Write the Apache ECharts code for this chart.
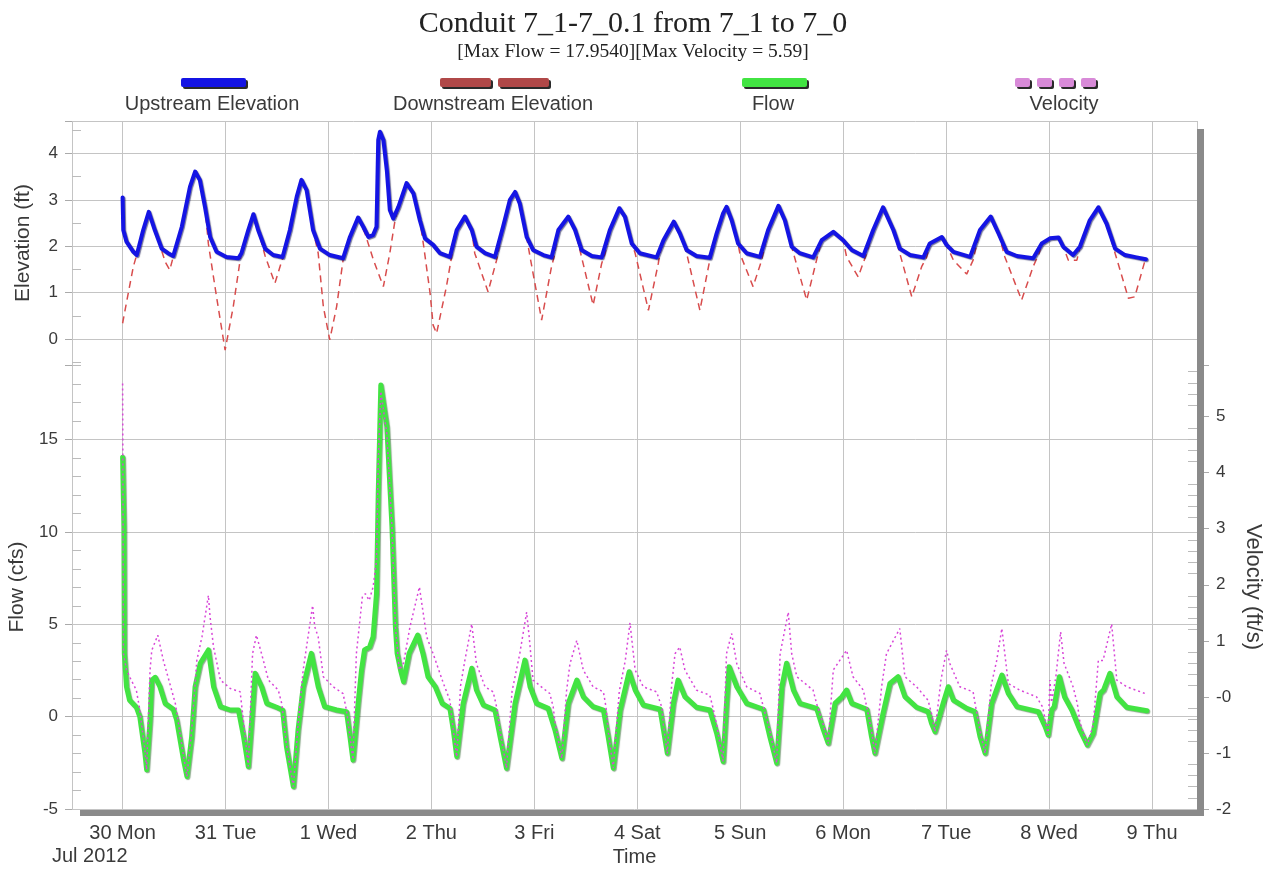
<!DOCTYPE html>
<html>
<head>
<meta charset="utf-8">
<title>Conduit 7_1-7_0.1 from 7_1 to 7_0</title>
<script src="https://cdn.jsdelivr.net/npm/echarts@6/dist/echarts.min.js"></script>
<style>
  html, body { margin: 0; padding: 0; background: #ffffff; }
  #chart { width: 1266px; height: 871px; }
</style>
</head>
<body>
<div id="chart"></div>
<script>
// Each point is [hours since 30 Jul 2012 00:00, value]
const upstreamElevation = [
  [0,3.05],[0.15,2.35],[0.9,2.10],[2.5,1.88],[3.3,1.81],[4.8,2.35],[6.1,2.74],[7.5,2.35],[9.1,1.95],[10.6,1.85],
  [11.8,1.79],[13.8,2.42],[15.7,3.28],[16.9,3.61],[18.0,3.43],[19.2,2.85],[20.4,2.20],[21.9,1.88],[24.2,1.77],[27.0,1.74],
  [27.7,1.85],[29.3,2.35],[30.5,2.69],[31.6,2.35],[33.2,1.95],[35.1,1.81],[37.3,1.77],[39.0,2.35],[40.6,3.07],[41.7,3.43],
  [42.9,3.21],[44.4,2.35],[46.0,1.95],[48.3,1.81],[51.4,1.74],[53.0,2.20],[54.9,2.62],[56.1,2.42],[57.3,2.20],[58.4,2.24],
  [59.2,2.42],[59.6,4.29],[60.0,4.47],[60.8,4.29],[61.6,3.64],[62.3,2.78],[63.1,2.60],[64.3,2.85],[66.2,3.36],[67.8,3.14],
  [69.3,2.56],[70.5,2.17],[72.4,2.03],[74.0,1.85],[76.3,1.77],[77.9,2.35],[79.8,2.64],[81.4,2.35],[82.5,1.99],[84.5,1.85],
  [86.8,1.77],[88.7,2.42],[90.3,3.00],[91.5,3.17],[92.6,2.92],[94.2,2.20],[95.7,1.92],[98.1,1.81],[100.0,1.76],[101.6,2.35],
  [103.9,2.64],[105.5,2.35],[107.0,1.92],[109.4,1.79],[111.7,1.76],[113.6,2.35],[115.8,2.82],[117.1,2.64],[118.7,2.06],[120.6,1.85],
  [124.5,1.76],[126.1,2.13],[128.5,2.53],[129.9,2.28],[131.5,1.92],[133.8,1.79],[136.9,1.75],[138.5,2.28],[140.0,2.71],[140.8,2.85],
  [142.0,2.56],[143.5,2.06],[145.5,1.85],[148.6,1.77],[150.5,2.35],[152.9,2.87],[154.4,2.56],[156.0,1.99],[157.9,1.85],[161.0,1.76],
  [163.0,2.13],[165.7,2.31],[168.0,2.13],[170.0,1.92],[172.7,1.79],[175.0,2.35],[177.3,2.84],[179.7,2.35],[181.2,1.95],[183.6,1.81],
  [186.7,1.76],[188.2,2.06],[191.0,2.20],[192.1,2.03],[193.7,1.88],[197.6,1.77],[199.9,2.35],[202.4,2.64],[204.2,2.28],[206.1,1.88],
  [208.5,1.79],[212.3,1.74],[214.3,2.06],[216.2,2.17],[218.2,2.19],[219.3,1.99],[221.6,1.81],[223.2,1.99],[225.5,2.56],[227.5,2.84],
  [229.4,2.49],[231.4,1.95],[233.7,1.81],[236.4,1.76],[238.6,1.72]
];

const downstreamElevation = [
  [0,0.34],[1.3,0.98],[2.5,1.56],[3.4,1.85],[4.8,2.35],[6.1,2.74],[7.5,2.35],[9.1,1.90],[10.0,1.65],[11.0,1.49],
  [11.8,1.77],[13.8,2.42],[15.7,3.28],[16.9,3.61],[18.0,3.43],[19.2,2.85],[20.0,2.05],[21.9,0.91],[23.9,-0.24],[25.8,0.70],
  [27.4,1.70],[27.7,1.85],[29.3,2.35],[30.5,2.69],[31.6,2.35],[33.2,1.80],[35.5,1.20],[37.4,1.77],[39.0,2.35],[40.6,3.07],
  [41.7,3.43],[42.9,3.21],[44.4,2.35],[45.6,1.85],[46.8,0.70],[48.3,-0.02],[49.9,0.70],[51.4,1.70],[53.0,2.20],[54.9,2.62],
  [56.5,2.28],[58.5,1.70],[60.8,1.13],[62.3,1.85],[63.5,2.55],[64.3,2.85],[66.2,3.36],[67.8,3.14],[69.3,2.56],[70.2,2.00],
  [71.7,0.98],[72.4,0.30],[73.2,0.12],[75.5,1.13],[76.7,1.77],[77.9,2.35],[79.8,2.64],[81.4,2.35],[82.1,1.85],[85.2,1.02],
  [87.2,1.70],[88.7,2.42],[90.3,3.00],[91.5,3.17],[92.6,2.92],[94.2,2.20],[95.0,1.77],[97.7,0.41],[100.0,1.56],[100.6,1.77],
  [101.6,2.35],[103.9,2.64],[105.5,2.35],[107.0,1.77],[109.7,0.73],[111.7,1.63],[112.5,1.85],[113.6,2.35],[115.8,2.82],[117.1,2.64],
  [118.7,2.06],[119.5,1.85],[122.6,0.62],[124.9,1.63],[125.3,1.85],[126.1,2.13],[128.5,2.53],[129.9,2.28],[131.5,1.85],[134.6,0.62],
  [136.9,1.70],[138.5,2.28],[140.0,2.71],[140.8,2.85],[142.0,2.56],[143.5,2.06],[143.9,1.85],[147.0,1.13],[149.0,1.70],[150.5,2.35],
  [152.9,2.87],[154.4,2.56],[156.0,1.99],[156.4,1.85],[159.5,0.84],[161.8,1.70],[163.0,2.13],[165.7,2.31],[168.0,2.13],[168.8,1.77],
  [171.5,1.34],[173.5,1.85],[175.0,2.35],[177.3,2.84],[179.7,2.35],[181.2,1.85],[184.0,0.91],[186.3,1.56],[187.5,1.77],[188.2,2.06],
  [191.0,2.20],[192.1,2.03],[193.7,1.70],[196.8,1.40],[198.3,1.70],[199.9,2.35],[202.4,2.64],[204.2,2.28],[205.7,1.77],[209.6,0.84],
  [212.3,1.56],[213.7,1.85],[214.3,2.06],[216.2,2.17],[218.2,2.19],[219.3,1.99],[220.5,1.70],[222.5,1.70],[223.2,1.99],[225.5,2.56],
  [227.5,2.84],[229.4,2.49],[231.4,1.85],[234.5,0.88],[236.0,0.91],[238.4,1.70]
];

const flow = [
  [0,14.05],[0.3,10.3],[0.4,3.43],[0.9,1.62],[1.6,0.90],[3.2,0.51],[4.0,0.00],[5.2,-1.98],[5.6,-2.88],[6.4,-0.18],
  [6.8,1.98],[7.6,2.13],[8.7,1.62],[9.9,0.72],[11.8,0.40],[12.6,-0.18],[14.2,-2.34],[15.0,-3.24],[16.1,-1.08],[16.9,1.62],
  [18.1,2.89],[20.0,3.61],[21.2,1.62],[22.8,0.54],[25.1,0.36],[27.0,0.36],[28.2,-1.08],[29.3,-2.70],[30.1,-0.18],[30.9,2.35],
  [32.4,1.62],[33.6,0.72],[35.9,0.51],[37.3,0.36],[38.2,-1.62],[39.8,-3.78],[40.9,-0.72],[42.1,1.62],[44.0,3.43],[45.6,1.62],
  [47.1,0.54],[49.9,0.36],[52.2,0.27],[53.0,-1.08],[53.7,-2.34],[54.9,0.72],[55.7,2.52],[56.4,3.61],[57.6,3.78],[58.4,4.32],
  [59.2,6.67],[59.6,12.1],[60.2,17.954],[61.6,15.7],[62.8,10.3],[63.6,4.86],[64.0,3.43],[64.8,2.52],[65.5,1.89],[66.8,3.43],
  [68.8,4.42],[70.0,3.43],[71.2,2.16],[72.9,1.62],[74.5,0.72],[76.3,0.45],[77.1,-0.72],[77.9,-2.16],[79.4,0.72],[81.4,2.62],
  [82.5,1.44],[84.1,0.63],[86.8,0.36],[88.0,-1.08],[89.5,-2.79],[91.5,0.72],[93.8,3.06],[95.0,1.62],[96.5,0.72],[99.2,0.45],
  [100.8,-0.72],[102.4,-2.25],[103.9,0.72],[105.9,1.98],[107.4,1.08],[109.7,0.54],[112.1,0.36],[113.2,-1.08],[114.4,-2.79],[116.0,0.36],
  [118.1,2.43],[119.5,1.44],[121.4,0.63],[125.3,0.40],[126.1,-0.72],[127.0,-1.98],[128.4,0.72],[129.5,1.98],[131.1,1.08],[133.8,0.51],
  [136.9,0.36],[138.5,-0.90],[140.0,-2.43],[140.8,0.72],[141.4,2.70],[143.2,1.62],[145.5,0.72],[149.4,0.40],[150.9,-1.08],[152.5,-2.52],
  [153.7,1.62],[154.8,2.89],[156.4,1.44],[157.9,0.72],[161.8,0.45],[163.4,-0.72],[164.5,-1.44],[166.1,0.72],[167.7,1.08],[168.8,1.44],
  [170.0,0.72],[173.5,0.40],[174.6,-1.08],[175.4,-1.98],[177.3,0.18],[178.9,1.80],[180.8,2.16],[182.4,1.08],[185.1,0.51],[187.8,0.27],
  [188.6,-0.36],[189.4,-0.81],[191.3,0.72],[192.5,1.62],[193.7,0.90],[196.8,0.45],[198.7,0.27],[199.9,-1.08],[201.1,-1.98],[202.6,0.72],
  [205.0,2.25],[206.5,1.26],[208.5,0.54],[213.5,0.27],[215.1,-0.54],[215.8,-0.99],[216.6,0.36],[217.2,0.54],[218.4,2.16],[219.6,1.08],
  [221.3,0.36],[223.2,-0.72],[224.9,-1.53],[226.3,-0.90],[227.9,1.26],[228.7,1.44],[230.2,2.35],[231.8,1.08],[234.1,0.51],[238.8,0.32]
];

const velocity = [
  [0,5.59],[0.2,0.77],[0.9,0.48],[2.0,0.30],[3.2,0.12],[3.9,-0.18],[5.2,-0.95],[5.6,-1.30],[6.4,0.48],[6.8,0.83],
  [8.2,1.10],[9.5,0.65],[11.0,0.24],[12.3,-0.12],[14.2,-1.05],[15.0,-1.42],[16.1,-0.60],[17.3,0.65],[18.5,1.07],[20.0,1.81],
  [20.4,1.42],[21.2,0.89],[22.8,0.30],[25.1,0.15],[27.4,0.09],[28.2,-0.45],[29.3,-1.24],[30.3,0.77],[31.2,1.10],[32.4,0.77],
  [34.0,0.30],[36.3,0.12],[37.1,-0.12],[38.2,-0.85],[39.8,-1.60],[40.9,-0.50],[42.1,0.48],[44.3,1.63],[44.8,1.25],[45.6,1.07],
  [46.8,0.36],[49.1,0.18],[51.4,0.06],[52.2,-0.24],[53.0,-0.70],[53.7,-1.12],[54.5,0.77],[55.9,1.78],[56.6,1.84],[57.5,1.72],
  [58.4,1.96],[59.2,2.43],[59.6,4.20],[60.2,5.45],[61.6,4.70],[62.8,3.02],[63.6,1.25],[64.5,0.48],[65.5,0.60],[67.0,1.25],
  [69.2,1.96],[70.9,1.07],[72.4,0.77],[74.8,0.24],[76.3,-0.06],[77.1,-0.60],[77.9,-1.07],[78.8,0.20],[79.8,0.65],[81.4,1.30],
  [82.5,0.59],[84.5,0.18],[86.4,0.09],[87.2,-0.18],[88.0,-0.60],[89.5,-1.27],[90.8,0.10],[92.6,0.77],[94.2,1.51],[94.8,1.07],
  [95.7,0.30],[98.1,0.15],[99.6,0.06],[100.4,-0.18],[100.8,-0.45],[102.4,-1.10],[103.5,0.10],[104.3,0.59],[105.9,1.01],[107.4,0.48],
  [109.7,0.18],[112.1,0.09],[112.7,-0.18],[113.2,-0.60],[114.4,-1.27],[115.8,0.10],[117.2,0.65],[118.3,1.32],[119.5,0.48],[121.4,0.18],
  [124.5,0.09],[125.7,-0.18],[126.1,-0.50],[127.0,-1.01],[128.0,0.20],[128.8,0.77],[129.9,0.89],[131.1,0.48],[133.8,0.12],[136.9,0.03],
  [137.6,-0.18],[138.5,-0.50],[140.0,-1.15],[140.8,0.77],[142.0,1.13],[143.2,0.59],[145.5,0.18],[148.6,0.06],[149.4,-0.18],[150.9,-0.60],
  [152.5,-1.18],[153.3,0.77],[155.2,1.51],[156.0,0.77],[157.2,0.36],[161.0,0.12],[161.8,-0.12],[163.4,-0.50],[164.5,-0.83],[165.7,0.48],
  [168.8,0.83],[170.3,0.36],[172.7,0.12],[173.5,-0.18],[174.6,-0.60],[175.4,-1.01],[177.0,0.20],[178.1,0.77],[181.2,1.22],[182.4,0.36],
  [185.1,0.18],[187.8,-0.06],[188.6,-0.30],[189.4,-0.62],[190.8,0.30],[192.1,0.83],[192.9,0.59],[195.2,0.18],[198.3,0.09],[198.9,-0.18],
  [199.9,-0.60],[201.1,-1.01],[202.5,0.20],[203.8,0.65],[205.0,1.22],[206.5,0.24],[209.2,0.12],[213.1,0.00],[214.5,-0.18],[215.1,-0.40],
  [215.8,-0.68],[216.2,0.30],[216.6,-0.10],[217.6,0.36],[218.7,1.16],[219.5,0.60],[220.1,0.48],[221.6,0.18],[222.6,-0.12],[223.2,-0.45],
  [224.9,-0.86],[226.3,-0.50],[227.5,0.65],[228.6,0.65],[230.6,1.30],[231.8,0.30],[234.1,0.18],[238.4,0.06]
];

const dayLabels = ['30 Mon', '31 Tue', '1 Wed', '2 Thu', '3 Fri', '4 Sat', '5 Sun', '6 Mon', '7 Tue', '8 Wed', '9 Thu'];
const seriesNames = ['Upstream Elevation', 'Downstream Elevation', 'Flow', 'Velocity'];
const titleText = 'Conduit 7_1-7_0.1 from 7_1 to 7_0';
const subTitleText = '[Max Flow = 17.9540][Max Velocity = 5.59]';
const monthLabel = 'Jul 2012';

// ---- layout and styling ----
const X_MIN = -11.8, X_MAX = 250.5;          // hours
const PLOT_LEFT = 72, PLOT_RIGHT = 1197, PLOT_TOP = 121, PANEL_SPLIT = 365, PLOT_BOTTOM = 809;
const W = 1266;
const SANS = "'Liberation Sans', Arial, Helvetica, sans-serif";
const SERIF = "'Liberation Serif', 'Times New Roman', serif";
const GRID_COLOR = '#c4c4c4';
const TEXT_COLOR = '#3a3a3a';
const colors = {
  up: '#1414e4',
  down: '#d84c4c',
  flow: '#42e442',
  vel: '#d846d8',
  legendDown: '#b04848',
  legendVel: '#d88ad8',
  shadow: '#8a8a8a'
};

const chart = echarts.init(document.getElementById('chart'), null, { renderer: 'canvas' });

const xBase = {
  type: 'value',
  min: X_MIN,
  max: X_MAX,
  minInterval: 24,
  maxInterval: 24,
  axisLine: { show: false, onZero: false },
  axisTick: { show: false },
  splitLine: { show: true, lineStyle: { color: GRID_COLOR, width: 1 } }
};

function dayLabel(h) {
  const d = h / 24;
  if (Math.abs(d - Math.round(d)) > 1e-6) return '';
  return dayLabels[Math.round(d)] || '';
}
function intLabel(v) {
  return Math.abs(v - Math.round(v)) < 1e-9 ? String(Math.round(v)) : '';
}
function velLabel(v) {
  if (Math.abs(v - Math.round(v)) > 1e-9) return '';
  const r = Math.round(v);
  return r === 0 ? '-0' : String(r);
}

const leftTick = { show: true, length: 7, lineStyle: { color: '#aaaaaa' } };
const axisNameStyle = { fontFamily: SANS, fontSize: 21, color: TEXT_COLOR };

// legend drawn above the plot: swatch over the name
const legendItems = [
  { name: seriesNames[0], cx: 212, swatches: [[181, 65]], fill: colors.up },
  { name: seriesNames[1], cx: 493, swatches: [[440, 51], [498, 51]], fill: colors.legendDown },
  { name: seriesNames[2], cx: 773, swatches: [[742, 65]], fill: colors.flow },
  { name: seriesNames[3], cx: 1064, swatches: [[1015, 15], [1037, 15], [1059, 15], [1081, 15]], fill: colors.legendVel }
];
const graphicEls = [];
legendItems.forEach(function (it) {
  it.swatches.forEach(function (s) {
    graphicEls.push({ type: 'rect', shape: { x: s[0] + 2, y: 80, width: s[1], height: 9, r: 2 }, style: { fill: '#2a2a2a' }, z: 10 });
    graphicEls.push({ type: 'rect', shape: { x: s[0], y: 78, width: s[1], height: 9, r: 2 }, style: { fill: it.fill }, z: 11 });
  });
  graphicEls.push({
    type: 'text', x: it.cx, y: 104, z: 11,
    style: { text: it.name, fill: TEXT_COLOR, font: '20px ' + SANS, align: 'center', verticalAlign: 'middle' }
  });
});
// frame shadow on the right and bottom of the plot
graphicEls.push({ type: 'rect', shape: { x: PLOT_RIGHT, y: PLOT_TOP + 8, width: 7, height: PLOT_BOTTOM - PLOT_TOP - 1 }, style: { fill: colors.shadow }, z: 20 });
graphicEls.push({ type: 'rect', shape: { x: PLOT_LEFT + 8, y: PLOT_BOTTOM + 1, width: PLOT_RIGHT - PLOT_LEFT - 1, height: 6 }, style: { fill: colors.shadow }, z: 20 });
// month/year under the first day label
graphicEls.push({
  type: 'text', x: 52, y: 856, z: 11,
  style: { text: monthLabel, fill: TEXT_COLOR, font: '20px ' + SANS, align: 'left', verticalAlign: 'middle' }
});

const option = {
  animation: false,
  backgroundColor: '#ffffff',
  title: {
    text: titleText,
    subtext: subTitleText,
    left: 'center',
    top: 4,
    itemGap: 3,
    textStyle: { fontFamily: SERIF, fontSize: 30, fontWeight: 'normal', color: '#222222' },
    subtextStyle: { fontFamily: SERIF, fontSize: 19.5, color: '#222222' }
  },
  grid: [
    { left: PLOT_LEFT, right: W - PLOT_RIGHT, top: PLOT_TOP, height: PANEL_SPLIT - PLOT_TOP, containLabel: false, outerBoundsMode: 'none' },
    { left: PLOT_LEFT, right: W - PLOT_RIGHT, top: PANEL_SPLIT, height: PLOT_BOTTOM - PANEL_SPLIT, containLabel: false, outerBoundsMode: 'none' }
  ],
  xAxis: [
    Object.assign({}, xBase, { gridIndex: 0, axisLabel: { show: false } }),
    Object.assign({}, xBase, {
      gridIndex: 1,
      name: 'Time',
      nameLocation: 'middle',
      nameGap: 36,
      nameTextStyle: { fontFamily: SANS, fontSize: 20, color: TEXT_COLOR },
      axisLabel: { show: true, formatter: dayLabel, margin: 14, fontFamily: SANS, fontSize: 20, color: TEXT_COLOR }
    })
  ],
  yAxis: [
    {
      type: 'value', gridIndex: 0, position: 'left',
      min: -0.56, max: 4.70, minInterval: 1, maxInterval: 1,
      name: 'Elevation (ft)', nameLocation: 'middle', nameGap: 38,
      nameTextStyle: axisNameStyle,
      axisLine: { show: false, onZero: false },
      axisTick: leftTick,
      minorTick: { show: true, splitNumber: 2, length: -9, lineStyle: { color: '#bbbbbb' } },
      axisLabel: { formatter: intLabel, margin: 14, fontFamily: SANS, fontSize: 17, color: TEXT_COLOR },
      splitLine: { show: true, showMinLine: false, lineStyle: { color: GRID_COLOR, width: 1 } }
    },
    {
      type: 'value', gridIndex: 1, position: 'left',
      min: -5, max: 19.04, interval: 5,
      name: 'Flow (cfs)', nameLocation: 'middle', nameGap: 38,
      nameTextStyle: axisNameStyle,
      axisLine: { show: false, onZero: false },
      axisTick: leftTick,
      minorTick: { show: true, splitNumber: 5, length: -9, lineStyle: { color: '#bbbbbb' } },
      axisLabel: { formatter: function (v) { return Math.abs(v / 5 - Math.round(v / 5)) < 1e-9 ? String(v) : ''; }, margin: 14, fontFamily: SANS, fontSize: 17, color: TEXT_COLOR },
      splitLine: { show: true, showMaxLine: false, lineStyle: { color: GRID_COLOR, width: 1 } }
    },
    {
      type: 'value', gridIndex: 1, position: 'right',
      min: -2, max: 5.92, interval: 1,
      name: 'Velocity (ft/s)', nameLocation: 'middle', nameGap: 35, nameRotate: -90,
      nameTextStyle: { fontFamily: SANS, fontSize: 22, color: TEXT_COLOR },
      axisLine: { show: false, onZero: false },
      axisTick: { show: true, length: 12, lineStyle: { color: '#aaaaaa' } },
      minorTick: { show: true, splitNumber: 5, length: -9, lineStyle: { color: '#bbbbbb' } },
      axisLabel: { formatter: velLabel, margin: 19, fontFamily: SANS, fontSize: 17, color: TEXT_COLOR },
      splitLine: { show: false }
    }
  ],
  series: [
    {
      name: seriesNames[1], type: 'line', xAxisIndex: 0, yAxisIndex: 0, data: downstreamElevation,
      showSymbol: false, symbol: 'none', z: 2,
      lineStyle: { color: colors.down, width: 1.5, type: [7, 5] }, itemStyle: { color: colors.down }
    },
    {
      name: seriesNames[0], type: 'line', xAxisIndex: 0, yAxisIndex: 0, data: upstreamElevation,
      showSymbol: false, symbol: 'none', z: 3,
      lineStyle: { color: colors.up, width: 4, join: 'round', cap: 'round', shadowColor: 'rgba(0,0,70,0.55)', shadowBlur: 1, shadowOffsetX: 1, shadowOffsetY: 1 },
      itemStyle: { color: colors.up }
    },
    {
      name: seriesNames[2], type: 'line', xAxisIndex: 1, yAxisIndex: 1, data: flow,
      showSymbol: false, symbol: 'none', z: 2,
      lineStyle: { color: colors.flow, width: 5, join: 'round', cap: 'round', shadowColor: 'rgba(0,70,0,0.45)', shadowBlur: 1, shadowOffsetX: 1, shadowOffsetY: 1 },
      itemStyle: { color: colors.flow }
    },
    {
      name: seriesNames[3], type: 'line', xAxisIndex: 1, yAxisIndex: 2, data: velocity,
      showSymbol: false, symbol: 'none', z: 3,
      lineStyle: { color: colors.vel, width: 1.5, type: [2, 3] }, itemStyle: { color: colors.vel }
    }
  ],
  graphic: { elements: graphicEls }
};

chart.setOption(option);
</script>
</body>
</html>
